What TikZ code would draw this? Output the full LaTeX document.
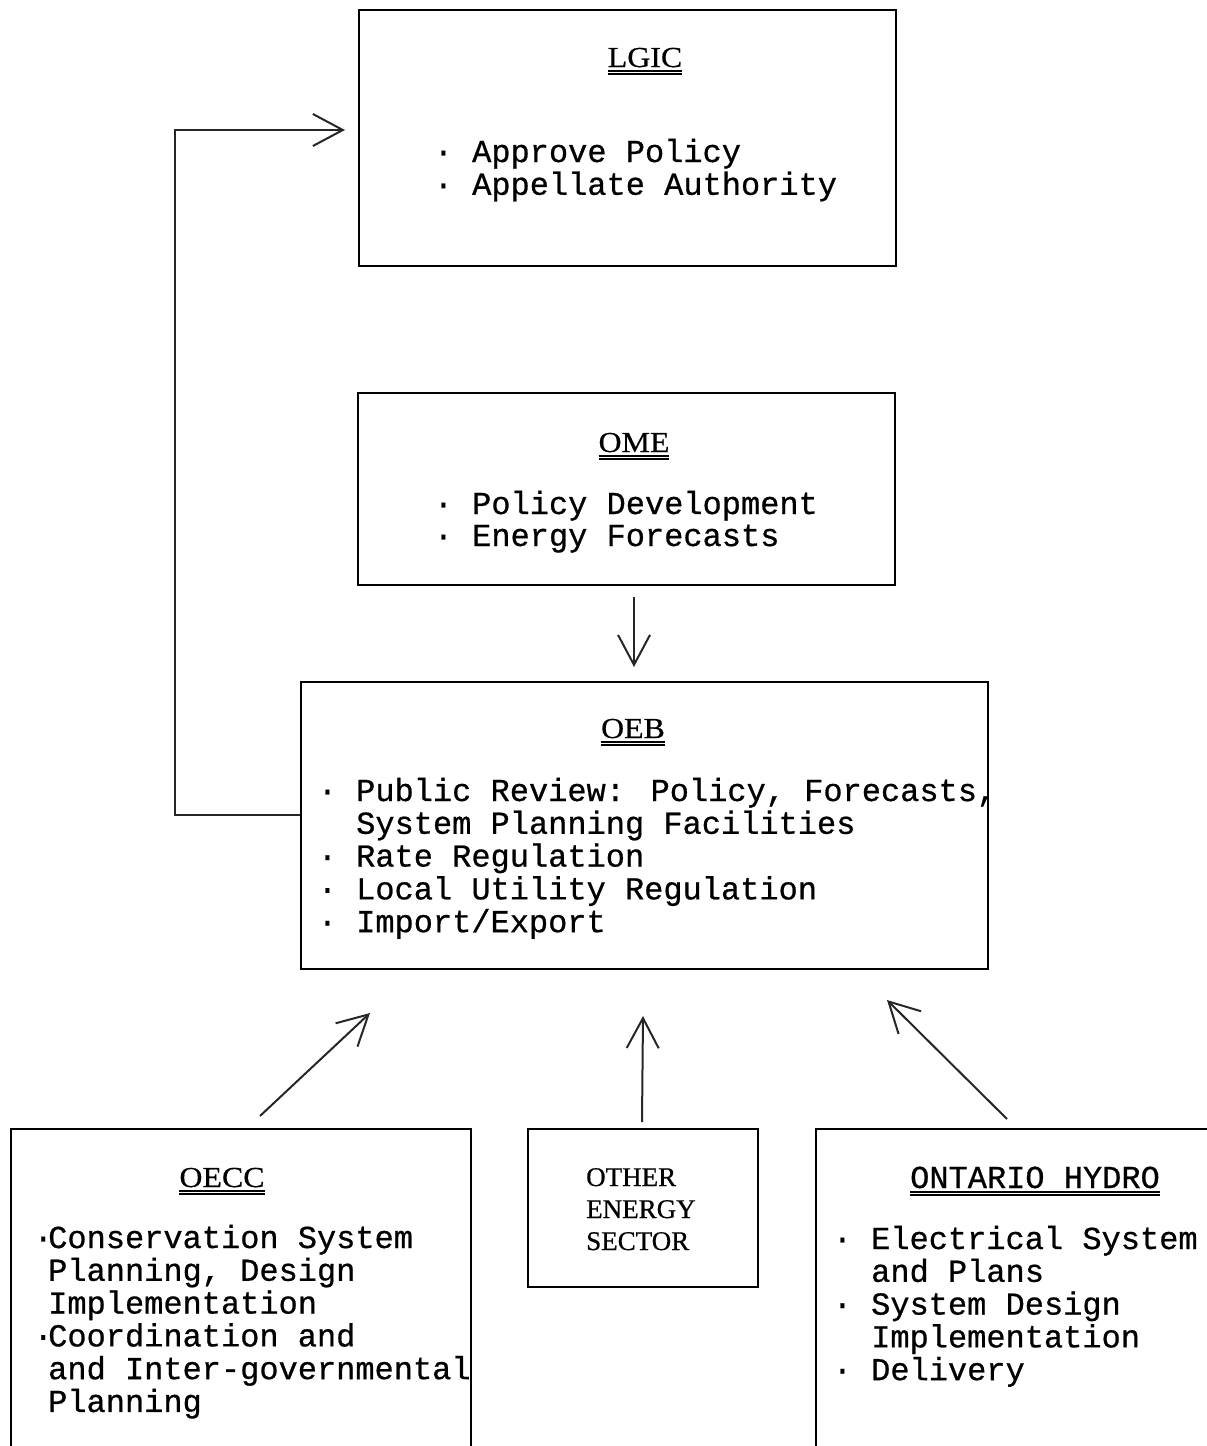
\documentclass[tikz,border=0pt]{standalone}
\usepackage{fontspec}
\setmainfont{Liberation Serif}
\newfontfamily\monof[FakeBold=0.7]{Liberation Mono}
\newfontfamily\ttlf[FakeStretch=1.1,FakeBold=0.6]{Liberation Serif}
\newfontfamily\othf[FakeBold=0.6]{Liberation Serif}
\usetikzlibrary{arrows.meta}
\newcommand\tw{\monof\fontsize{32}{32}\selectfont}
\newcommand\ttl{\ttlf\fontsize{29}{32}\selectfont}
\newcommand\oth{\othf\fontsize{27}{32}\selectfont}
\newcommand\bul{\makebox[38.4pt][l]{·}}
\newcommand\ind{\hspace*{38.4pt}}
\newcommand\sbul{\makebox[10pt][c]{·}}
\newcommand\sind{\hspace*{10pt}}
\newcommand\dul[1]{\leavevmode\setbox0\hbox{#1}\rlap{\raisebox{-4.5pt}{\rule{\wd0}{1.6pt}}}\rlap{\raisebox{-8pt}{\rule{\wd0}{1.6pt}}}\box0}
\tikzset{
  box/.style={draw=black, line width=2pt, rectangle, inner sep=0pt},
  frame/.style={draw=black, line width=2pt},
  txt/.style={anchor=base west, inner sep=0pt, font=\tw},
  head/.style={anchor=base, inner sep=0pt, font=\ttl},
  arr/.style={draw=black!85, line width=2pt, -{Straight Barb[length=30pt,width=32pt]}}
}
\begin{document}
\begin{tikzpicture}[x=1pt,y=-1pt]
\useasboundingbox (0,0) rectangle (1207,1446);
% boxes
\node[box, minimum width=537, minimum height=256] (lgic) at (627.5,138) {};
\node[box, minimum width=537, minimum height=192] (ome) at (626.5,489) {};
\node[box, minimum width=687, minimum height=287] (oeb) at (644.5,825.5) {};
\node[box, minimum width=230, minimum height=158] (other) at (643,1208) {};
\node[inner sep=0pt, minimum width=460, minimum height=317] (oecc) at (241,1287.5) {};
\node[inner sep=0pt, minimum width=391, minimum height=317] (hydro) at (1011.5,1287.5) {};
\draw[frame] (oecc.south west) -- (oecc.north west) -- (oecc.north east) -- (oecc.south east);
\draw[frame] (hydro.south west) -- (hydro.north west) -- (hydro.north east);
% texts
\node[head] (lgich) at (645,67) {\dul{LGIC}};
\node[txt] (lgict) at (433.6,162) {\begin{tabular}[t]{@{}l@{}}\bul Approve Policy\\ \bul Appellate Authority\end{tabular}};
\node[head] (omeh) at (634,452) {\dul{OME}};
\node[txt] (omet) at (433.6,514) {\begin{tabular}[t]{@{}l@{}}\bul Policy Development\\ \bul Energy Forecasts\end{tabular}};
\node[head] (oebh) at (633,738) {\dul{OEB}};
\node[txt] (oebt) at (317.6,801) {\begin{tabular}[t]{@{}l@{}}\bul Public Review: Policy, Forecasts,\\ \ind System Planning Facilities\\ \bul Rate Regulation\\ \bul Local Utility Regulation\\ \bul Import/Export\end{tabular}};
\node[head] (oecch) at (222,1187) {\dul{OECC}};
\node[txt] (oecct) at (38,1248) {\begin{tabular}[t]{@{}l@{}}\sbul Conservation System\\ \sind Planning, Design\\ \sind Implementation\\ \sbul Coordination and\\ \sind and Inter-governmental\\ \sind Planning\end{tabular}};
\node[anchor=base west, inner sep=0pt, font=\oth] (othert) at (586,1186) {\begin{tabular}[t]{@{}l@{}}OTHER\\ ENERGY\\ SECTOR\end{tabular}};
\node[head, font=\tw] (hydroh) at (1035,1188) {\dul{ONTARIO HYDRO}};
\node[txt] (hydrot) at (832.6,1249) {\begin{tabular}[t]{@{}l@{}}\bul Electrical System\\ \ind and Plans\\ \bul System Design\\ \ind Implementation\\ \bul Delivery\end{tabular}};
% connector coordinates
\coordinate (fb) at (175,815);
\coordinate (fbtip) at (345,130);
\coordinate (omes) at (634,597);
\coordinate (omee) at (634,667);
\coordinate (oeccs) at (260,1116);
\coordinate (oecce) at (370,1013);
\coordinate (others) at (642,1122);
\coordinate (othere) at (643,1016);
\coordinate (hydros) at (1007,1119);
\coordinate (hydroe) at (887,1000);
% connectors
\draw[arr] (oeb.west |- fb) -- (fb) |- (fbtip);
\draw[arr] (omes) -- (omee);
\draw[arr] (oeccs) -- (oecce);
\draw[arr] (others) -- (othere);
\draw[arr] (hydros) -- (hydroe);
\end{tikzpicture}
\end{document}
